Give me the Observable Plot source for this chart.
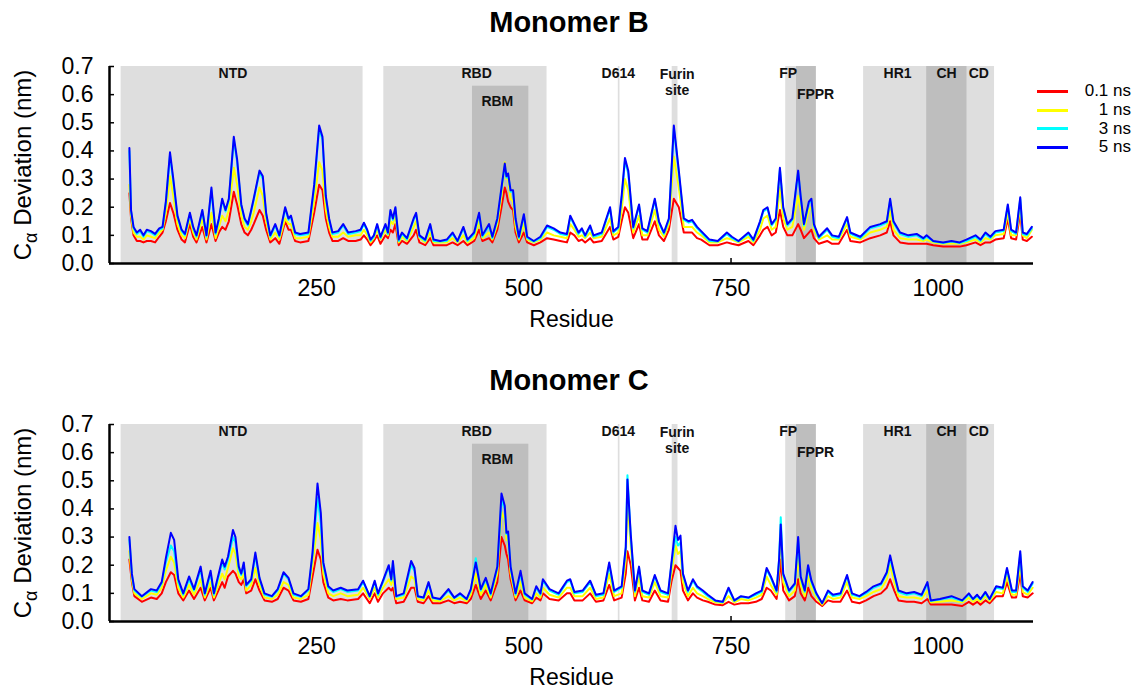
<!DOCTYPE html>
<html>
<head>
<meta charset="utf-8">
<script src="https://cdn.jsdelivr.net/npm/d3@7"></script>
<script src="https://cdn.jsdelivr.net/npm/@observablehq/plot@0.6"></script>
<style>
  body { margin: 0; background: #fff; font-family: "Liberation Sans", Arial, sans-serif; }
  #wrap { position: relative; width: 1138px; }
  .ptitle { width: 1138px; height: 44px; line-height: 44px; text-align: center; font-weight: bold; font-size: 29px; color: #000; }
  #legend { position: absolute; left: 1037px; top: 82px; width: 94px; font-size: 17px; color: #000; }
  .lrow { display: flex; align-items: center; height: 18.7px; }
  .lline { width: 31px; height: 3px; }
  .ltext { flex: 1; text-align: right; }
</style>
</head>
<body>
<div id="wrap"></div>
<script>
// ---------- data ----------
const xTicks = [250, 500, 750, 1000];
const yTicks = [0, 0.1, 0.2, 0.3, 0.4, 0.5, 0.6, 0.7];
const panelTitles = ["Monomer B", "Monomer C"];
const seriesNames = ["0.1 ns", "1 ns", "3 ns", "5 ns"];
const seriesColors = ["#ff0000", "#ffff00", "#00ffff", "#0000ff"];

const regionNames = ["NTD", "RBD", "RBM", "D614", "Furin\nsite", "FP", "FPPR", "HR1", "CH", "CD"];
const regionStart = [14, 331, 438, 614, 679, 816, 829, 910, 986, 1035];
const regionEnd   = [306, 528, 506, 616, 686, 829, 853, 986, 1035, 1068];
const regionTop   = [0.7, 0.7, 0.63, 0.7, 0.7, 0.7, 0.7, 0.7, 0.7, 0.7];
const regionLevel = ["outer", "outer", "inner", "outer", "outer", "outer", "inner", "outer", "inner", "outer"];
const labelX = [149, 443, 468, 614, 685, 819, 852, 951, 1010, 1049];
const labelY = [0.678, 0.678, 0.578, 0.678, 0.646, 0.678, 0.603, 0.678, 0.678, 0.678];

// Monomer B
const resB = [
  24,26,29,33,37,41,45,50,55,60,
  64,68,73,77,82,87,91,97,101,105,
  112,117,123,128,132,136,140,144,150,154,
  159,163,167,171,174,181,185,189,194,200,
  205,212,216,219,224,230,240,247,253,257,
  261,265,269,276,282,288,297,303,307,311,
  315,319,323,327,333,336,339,342,345,349,
  353,359,367,370,374,381,387,391,399,407,
  414,420,427,432,440,446,450,458,462,468,
  473,477,479,481,484,487,490,494,500,504,
  512,520,528,536,544,552,556,561,566,570,
  574,580,584,594,604,608,614,618,622,626,
  632,639,643,649,658,663,669,675,681,687,
  693,699,703,709,714,724,734,745,751,759,
  771,777,785,789,794,799,804,809,813,818,
  824,831,834,838,844,847,850,856,866,872,
  880,890,894,906,918,930,938,942,946,954,
  964,974,982,986,994,1006,1016,1026,1034,1045,
  1051,1057,1063,1069,1079,1084,1088,1094,1099,1102,
  1107,1113];
const b5 = [
  .41,.19,.13,.11,.12,.10,.12,.115,.105,.125,
  .13,.22,.395,.30,.17,.12,.105,.18,.13,.10,
  .19,.10,.27,.11,.16,.23,.19,.23,.45,.37,
  .21,.16,.14,.19,.23,.33,.31,.18,.10,.14,
  .10,.20,.16,.17,.11,.105,.11,.28,.49,.45,
  .24,.16,.11,.115,.14,.11,.115,.12,.145,.12,
  .085,.10,.14,.095,.14,.11,.19,.16,.20,.085,
  .11,.09,.16,.18,.10,.085,.14,.085,.08,.085,
  .11,.08,.13,.085,.11,.18,.10,.14,.095,.16,
  .27,.355,.31,.32,.26,.26,.16,.095,.175,.095,
  .08,.095,.135,.125,.11,.105,.17,.14,.11,.125,
  .10,.135,.10,.11,.20,.115,.13,.24,.375,.33,
  .13,.21,.125,.115,.23,.15,.11,.16,.49,.33,
  .16,.15,.155,.13,.115,.085,.08,.11,.095,.08,
  .11,.085,.15,.19,.20,.14,.16,.34,.20,.14,
  .16,.33,.24,.14,.22,.23,.14,.095,.125,.10,
  .095,.165,.11,.095,.13,.14,.15,.23,.15,.11,
  .10,.105,.09,.10,.08,.075,.08,.075,.085,.10,
  .085,.11,.095,.115,.12,.21,.12,.11,.235,.11,
  .105,.13];
const b3 = [
  .40,.185,.125,.105,.115,.095,.115,.11,.10,.12,
  .125,.215,.385,.29,.165,.115,.10,.175,.125,.095,
  .185,.095,.26,.105,.155,.225,.185,.225,.44,.36,
  .205,.155,.135,.185,.225,.325,.30,.175,.095,.135,
  .095,.195,.155,.165,.105,.10,.105,.27,.48,.44,
  .235,.155,.105,.11,.135,.105,.11,.115,.14,.115,
  .08,.095,.135,.09,.135,.105,.185,.155,.195,.08,
  .105,.085,.155,.175,.095,.08,.135,.08,.078,.08,
  .105,.078,.125,.08,.105,.175,.095,.135,.09,.155,
  .265,.35,.305,.315,.255,.255,.155,.09,.17,.09,
  .078,.09,.13,.12,.105,.10,.165,.135,.105,.12,
  .095,.13,.095,.105,.195,.11,.125,.23,.365,.32,
  .125,.205,.12,.11,.225,.145,.105,.155,.48,.32,
  .155,.145,.15,.125,.11,.08,.078,.105,.09,.078,
  .105,.08,.145,.185,.195,.135,.155,.335,.195,.135,
  .155,.325,.235,.135,.215,.225,.135,.09,.12,.095,
  .09,.16,.105,.09,.125,.135,.145,.225,.145,.105,
  .095,.10,.085,.095,.078,.073,.078,.073,.08,.095,
  .08,.105,.09,.11,.115,.205,.115,.105,.23,.105,
  .10,.125];
const b1 = [
  .28,.17,.11,.095,.095,.085,.10,.095,.09,.11,
  .12,.18,.31,.24,.14,.10,.09,.16,.11,.085,
  .16,.085,.18,.09,.13,.17,.15,.19,.34,.28,
  .17,.13,.12,.15,.18,.27,.24,.15,.085,.11,
  .085,.16,.14,.14,.09,.09,.095,.22,.36,.33,
  .19,.13,.095,.095,.11,.095,.10,.10,.12,.10,
  .075,.09,.12,.085,.12,.10,.15,.14,.17,.075,
  .095,.08,.13,.15,.09,.075,.11,.075,.075,.075,
  .09,.075,.10,.075,.09,.15,.09,.11,.085,.14,
  .24,.36,.30,.30,.23,.22,.13,.085,.14,.085,
  .075,.085,.11,.10,.095,.09,.14,.12,.095,.10,
  .09,.11,.09,.095,.16,.10,.11,.19,.30,.26,
  .11,.17,.10,.10,.19,.12,.095,.14,.38,.27,
  .13,.13,.13,.11,.10,.075,.075,.09,.085,.075,
  .095,.075,.12,.16,.17,.12,.13,.27,.16,.12,
  .13,.24,.19,.12,.19,.20,.12,.085,.10,.085,
  .085,.14,.095,.085,.11,.12,.13,.19,.12,.09,
  .085,.085,.08,.085,.075,.07,.072,.07,.075,.085,
  .075,.09,.085,.10,.105,.18,.10,.10,.20,.10,
  .09,.12];
const b01 = [
  .25,.16,.10,.08,.08,.075,.08,.08,.075,.095,
  .11,.15,.215,.18,.12,.085,.075,.14,.095,.075,
  .13,.075,.14,.08,.11,.13,.12,.15,.255,.21,
  .14,.11,.10,.12,.14,.19,.17,.12,.075,.09,
  .07,.15,.12,.12,.08,.075,.08,.18,.28,.26,
  .16,.11,.08,.08,.09,.08,.08,.085,.10,.085,
  .065,.08,.10,.07,.10,.09,.12,.11,.14,.065,
  .08,.07,.10,.12,.075,.065,.09,.065,.065,.065,
  .075,.065,.08,.065,.08,.12,.08,.09,.075,.12,
  .20,.27,.25,.22,.20,.19,.11,.075,.11,.075,
  .065,.075,.09,.085,.08,.075,.11,.10,.08,.085,
  .075,.09,.075,.08,.13,.085,.095,.15,.20,.18,
  .09,.14,.085,.085,.15,.10,.08,.12,.23,.20,
  .11,.11,.11,.09,.085,.065,.065,.075,.07,.065,
  .08,.065,.10,.12,.13,.10,.11,.19,.13,.10,
  .10,.14,.12,.09,.11,.12,.09,.07,.08,.07,
  .07,.12,.08,.075,.09,.10,.11,.15,.10,.075,
  .07,.07,.07,.07,.065,.06,.06,.06,.065,.075,
  .065,.075,.075,.085,.09,.16,.09,.085,.18,.085,
  .08,.095];

// Monomer C
const resC = [
  24,27,30,39,50,57,63,68,74,78,
  83,89,96,102,110,115,122,126,136,139,
  143,149,152,156,159,162,165,171,176,181,
  187,196,203,210,216,222,231,240,245,251,
  255,258,264,270,279,287,300,306,314,320,
  324,330,337,340,342,346,355,364,368,372,
  379,385,390,399,409,416,423,431,436,442,
  448,454,460,468,473,477,479,481,484,490,
  496,501,510,515,520,523,531,542,552,556,
  561,571,580,587,596,603,609,618,623,625,
  629,634,639,643,651,658,665,674,678,683,
  686,689,692,698,704,709,716,722,731,740,
  747,754,762,771,780,787,793,798,805,808,
  810,813,820,827,831,834,839,843,847,853,
  860,867,873,882,890,896,905,913,922,931,
  938,942,947,952,962,971,980,987,991,1002,
  1016,1029,1037,1042,1047,1051,1057,1062,1070,1078,
  1083,1089,1094,1099,1102,1108,1114];
const c5 = [
  .30,.17,.115,.09,.115,.11,.14,.225,.315,.29,
  .15,.10,.16,.115,.195,.10,.18,.10,.22,.195,
  .23,.325,.30,.195,.17,.21,.13,.15,.245,.155,
  .10,.09,.115,.175,.155,.10,.09,.115,.245,.49,
  .385,.21,.125,.11,.12,.11,.115,.145,.09,.145,
  .10,.145,.20,.15,.215,.09,.10,.215,.19,.09,
  .085,.14,.085,.08,.115,.085,.10,.08,.115,.21,
  .115,.155,.10,.195,.455,.41,.315,.32,.195,.10,
  .18,.10,.08,.125,.10,.15,.115,.10,.145,.15,
  .105,.11,.145,.095,.10,.21,.11,.125,.265,.505,
  .31,.11,.195,.11,.10,.165,.11,.10,.205,.34,
  .29,.305,.17,.11,.15,.125,.11,.095,.075,.07,
  .12,.075,.09,.085,.10,.11,.19,.16,.11,.22,
  .345,.17,.11,.135,.30,.16,.11,.20,.145,.10,
  .065,.11,.095,.10,.165,.10,.09,.105,.125,.135,
  .175,.235,.17,.11,.10,.105,.095,.14,.075,.08,
  .09,.075,.10,.08,.095,.08,.105,.08,.125,.12,
  .19,.11,.11,.25,.125,.11,.14];
const c3 = [
  .29,.165,.11,.088,.11,.105,.135,.21,.27,.25,
  .14,.095,.15,.11,.185,.095,.17,.095,.21,.185,
  .22,.30,.28,.185,.165,.20,.125,.145,.235,.15,
  .095,.088,.11,.17,.15,.095,.088,.11,.235,.44,
  .35,.20,.12,.105,.115,.105,.11,.14,.088,.14,
  .095,.14,.195,.145,.21,.088,.095,.20,.18,.088,
  .083,.135,.083,.078,.11,.083,.095,.078,.11,.225,
  .11,.15,.095,.19,.43,.40,.31,.31,.19,.095,
  .17,.095,.078,.12,.095,.145,.11,.095,.14,.145,
  .10,.105,.14,.09,.095,.20,.105,.12,.26,.52,
  .30,.105,.19,.105,.095,.16,.105,.095,.20,.30,
  .27,.28,.165,.105,.145,.12,.105,.09,.073,.068,
  .115,.073,.088,.083,.095,.105,.185,.155,.105,.22,
  .37,.165,.105,.13,.29,.155,.105,.195,.14,.095,
  .065,.105,.09,.095,.16,.095,.088,.10,.12,.13,
  .17,.225,.165,.105,.095,.10,.09,.135,.073,.078,
  .085,.073,.095,.078,.09,.078,.10,.078,.12,.115,
  .185,.105,.105,.24,.12,.105,.135];
const c1 = [
  .25,.15,.10,.08,.10,.095,.12,.18,.23,.21,
  .12,.085,.13,.095,.15,.085,.14,.085,.17,.15,
  .19,.26,.24,.16,.15,.17,.11,.13,.19,.13,
  .085,.08,.095,.14,.13,.085,.08,.095,.20,.35,
  .29,.17,.10,.09,.10,.09,.095,.12,.08,.12,
  .085,.12,.15,.13,.16,.08,.085,.16,.15,.08,
  .075,.11,.075,.072,.09,.075,.085,.072,.095,.17,
  .095,.13,.085,.17,.39,.36,.29,.29,.17,.085,
  .14,.085,.072,.10,.085,.12,.095,.085,.12,.12,
  .09,.09,.12,.08,.085,.17,.09,.10,.22,.43,
  .27,.09,.16,.09,.085,.14,.09,.085,.17,.27,
  .24,.25,.14,.09,.12,.10,.09,.08,.068,.065,
  .09,.068,.08,.075,.085,.095,.16,.13,.095,.19,
  .31,.14,.09,.11,.23,.13,.09,.16,.12,.085,
  .06,.09,.08,.085,.14,.085,.08,.09,.105,.115,
  .15,.20,.14,.09,.085,.085,.08,.11,.068,.07,
  .075,.068,.085,.07,.08,.07,.09,.072,.105,.10,
  .16,.095,.095,.20,.105,.095,.12];
const c01 = [
  .22,.14,.09,.07,.085,.08,.10,.14,.175,.165,
  .10,.075,.11,.08,.12,.075,.12,.075,.14,.12,
  .16,.18,.17,.14,.13,.15,.10,.11,.15,.11,
  .075,.07,.08,.12,.11,.075,.07,.08,.16,.255,
  .22,.14,.085,.075,.08,.075,.08,.10,.065,.10,
  .07,.10,.12,.11,.12,.065,.07,.12,.12,.07,
  .065,.09,.065,.065,.075,.065,.07,.065,.08,.13,
  .08,.11,.075,.14,.30,.27,.24,.22,.15,.075,
  .11,.075,.065,.085,.075,.10,.08,.075,.10,.10,
  .075,.075,.10,.07,.075,.13,.075,.085,.17,.25,
  .20,.075,.12,.075,.07,.11,.075,.07,.14,.20,
  .19,.18,.11,.075,.10,.085,.075,.07,.06,.058,
  .07,.06,.065,.065,.07,.08,.12,.11,.08,.15,
  .22,.11,.075,.09,.15,.10,.075,.12,.09,.07,
  .055,.075,.07,.07,.11,.07,.065,.075,.09,.10,
  .12,.15,.11,.075,.07,.07,.065,.08,.06,.06,
  .06,.055,.07,.06,.07,.06,.075,.065,.09,.09,
  .14,.085,.085,.17,.09,.085,.10];

// ---------- build ----------
const regions = regionNames.map((n, i) => ({name: n, start: regionStart[i], end: regionEnd[i], top: regionTop[i], level: regionLevel[i]}));
const labels = regionNames.map((n, i) => ({text: n, x: labelX[i], y: labelY[i]}));
const YTITLE = "C\u03b1 Deviation (nm)";

function makePanel(res, seriesValues) {
  const lines = seriesValues.map((vals, k) =>
    Plot.line(res.map((r, i) => ({res: r, v: vals[i]})), {x: "res", y: "v", stroke: seriesColors[k], strokeWidth: 2})
  );
  const svg = Plot.plot({
    width: 1138,
    height: 314,
    marginLeft: 109,
    marginRight: 105,
    marginTop: 22,
    marginBottom: 95,
    style: {fontFamily: "'Liberation Sans', Arial, sans-serif", fontSize: "23px", color: "#000", background: "#fff", overflow: "visible"},
    x: {domain: [0, 1115]},
    y: {domain: [0, 0.7]},
    marks: [
      Plot.ruleX(xTicks, {x: d => d, y1: 0, y2: 0, insetTop: -5, stroke: "#000", strokeWidth: 1.5}),
      Plot.ruleY(yTicks, {y: d => d, x1: 0, x2: 0, insetRight: -5, stroke: "#000", strokeWidth: 1.5}),
      Plot.rect(regions.filter(d => d.level === "outer"), {x1: "start", x2: "end", y1: 0, y2: "top", fill: "#dedede"}),
      Plot.rect(regions.filter(d => d.level === "inner"), {x1: "start", x2: "end", y1: 0, y2: "top", fill: "#bebebe"}),
      Plot.text(labels, {x: "x", y: "y", text: "text", fontWeight: "bold", fontSize: 14, lineHeight: 1.15, fill: "#111"}),
      ...lines,
      Plot.ruleX([0], {y1: 0, y2: 0.7, stroke: "#000", strokeWidth: 2.5}),
      Plot.ruleY([0], {x1: 0, x2: 1115, stroke: "#000", strokeWidth: 2.5}),
      Plot.axisX({ticks: xTicks, tickSize: 0, tickPadding: 16, label: null, fontSize: 23, tickFormat: d => String(d)}),
      Plot.axisY({ticks: yTicks, tickSize: 0, tickPadding: 16, label: null, fontSize: 23, tickFormat: d3.format(".1f")}),
      Plot.text(["Residue"], {frameAnchor: "bottom", dy: 63, fontSize: 23}),
      Plot.text([YTITLE], {frameAnchor: "left", dx: -86, rotate: -90, textAnchor: "middle", fontSize: 24})
    ]
  });
  // subscript alpha in the y title
  svg.querySelectorAll("text").forEach(t => {
    if (t.textContent === YTITLE) {
      t.textContent = "";
      const ns = "http://www.w3.org/2000/svg";
      const a = document.createElementNS(ns, "tspan"); a.textContent = "C";
      const b = document.createElementNS(ns, "tspan"); b.textContent = "\u03b1"; b.setAttribute("dy", "6"); b.setAttribute("font-size", "18");
      const c = document.createElementNS(ns, "tspan"); c.textContent = " Deviation (nm)"; c.setAttribute("dy", "-6");
      t.append(a, b, c);
    }
  });
  return svg;
}

const wrap = document.getElementById("wrap");
const panels = [[resB, [b01, b1, b3, b5]], [resC, [c01, c1, c3, c5]]];
panels.forEach(([res, vals], p) => {
  const title = document.createElement("div");
  title.className = "ptitle";
  title.textContent = panelTitles[p];
  wrap.appendChild(title);
  const svg = makePanel(res, vals);
  svg.style.display = "block";
  wrap.appendChild(svg);
});

// legend
const legend = document.createElement("div");
legend.id = "legend";
seriesNames.forEach((n, k) => {
  const row = document.createElement("div"); row.className = "lrow";
  const ln = document.createElement("div"); ln.className = "lline"; ln.style.background = seriesColors[k];
  const tx = document.createElement("div"); tx.className = "ltext"; tx.textContent = n;
  row.append(ln, tx);
  legend.appendChild(row);
});
wrap.appendChild(legend);
</script>
</body>
</html>
